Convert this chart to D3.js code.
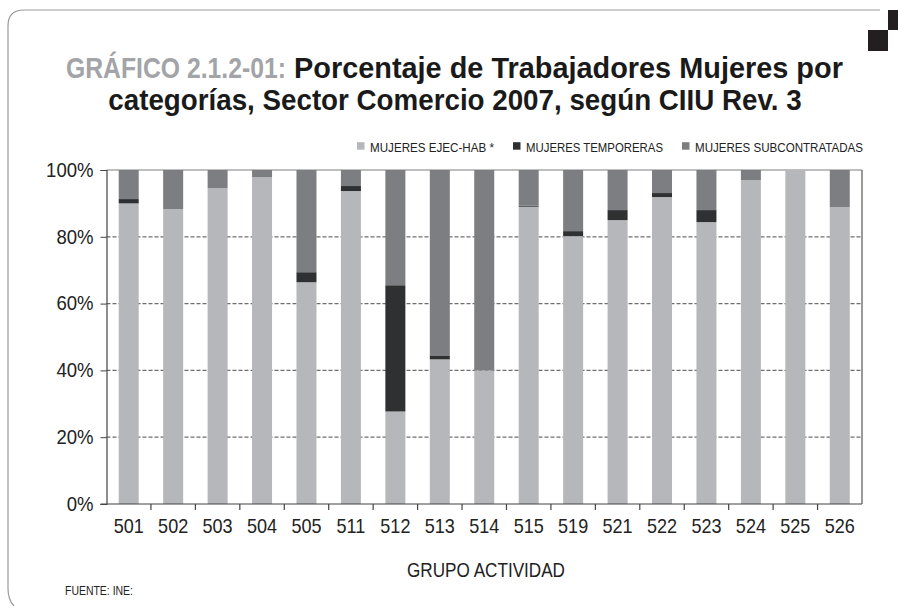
<!DOCTYPE html>
<html><head><meta charset="utf-8">
<script src="https://cdn.jsdelivr.net/npm/d3@7"></script>
<style>
html,body{margin:0;padding:0;background:#fff;}
svg{display:block;}
</style></head>
<body>
<svg id="chart" width="898" height="608"></svg>
<script>
const categories = ["501","502","503","504","505","511","512","513","514","515","519","521","522","523","524","525","526"];
const ejecHab     = [90.0, 88.3, 94.6, 97.9, 66.4, 93.7, 27.7, 43.3, 40.0, 89.0, 80.2, 85.0, 91.9, 84.4, 97.0, 100.0, 88.9];
const temporeras  = [1.3, 0, 0, 0, 3.0, 1.5, 37.8, 1.2, 0, 0.3, 1.5, 3.0, 1.2, 3.6, 0, 0, 0];
const subcontrat  = [8.7, 11.7, 5.4, 2.1, 30.6, 4.8, 34.5, 55.5, 60.0, 10.7, 18.3, 12.0, 6.9, 12.0, 3.0, 0, 11.1];
const seriesNames = ["MUJERES EJEC-HAB *","MUJERES TEMPORERAS","MUJERES SUBCONTRATADAS"];
const yTicks = [0,20,40,60,80,100];

(function(){
const colors = ["#b6b7ba","#2f3032","#7d7e82"];
const keys = ["ejec","temp","sub"];
const table = categories.map((c,i)=>({cat:c, ejec:ejecHab[i], temp:temporeras[i], sub:subcontrat[i]}));

const svg = d3.select("#chart");
const F = '"Liberation Sans", Arial, sans-serif';

function condense(sel, factor){
  sel.each(function(){
    const w = this.getComputedTextLength();
    d3.select(this).attr("textLength", (w*factor).toFixed(1)).attr("lengthAdjust","spacingAndGlyphs");
  });
}
function fitText(g, x, y, w, anchor, txt, attrs){
  const grp = g.append("g");
  const t = grp.append("text").attr("x",0).attr("y",0).attr("text-anchor",anchor).text(txt);
  Object.entries(attrs).forEach(([k,v])=>t.attr(k,v));
  const nat = t.node().getComputedTextLength();
  grp.attr("transform",`translate(${x},${y}) scale(${(w/nat).toFixed(4)},1)`);
  return t;
}

// frame
svg.append("path")
  .attr("d","M 880 10 L 24 10 Q 8 10 8 26 L 8 588 Q 8 600 14 606")
  .attr("fill","none").attr("stroke","#9a9a9a").attr("stroke-width",1.2);
svg.append("rect").attr("x",888).attr("y",10).attr("width",10).attr("height",20).attr("fill","#231f20");
svg.append("rect").attr("x",868).attr("y",30).attr("width",20).attr("height",21).attr("fill","#231f20");

// title
const TA = {"font-family":F,"font-weight":"bold","font-size":29.5};
fitText(svg, 66, 77.5, 220, "start", "GRÁFICO 2.1.2-01:", {...TA, fill:"#a3a4a7"});
fitText(svg, 294, 77.5, 549, "start", "Porcentaje de Trabajadores Mujeres por", {...TA, fill:"#1a1a1a"});
fitText(svg, 455, 110, 694, "middle", "categorías, Sector Comercio 2007, según CIIU Rev. 3", {...TA, fill:"#1a1a1a"});

const pl=106.5, pr=862, pt=170, pb=504;
const x = d3.scaleBand().domain(categories).range([pl,pr]).paddingInner(0.55).paddingOuter(0.275);
const y = d3.scaleLinear().domain([0,100]).range([pb,pt]);

// gridlines
svg.append("g").selectAll("line").data(yTicks.filter(d=>d>0&&d<100)).join("line")
  .attr("x1",pl).attr("x2",pr).attr("y1",d=>y(d)).attr("y2",d=>y(d))
  .attr("stroke","#6e6e6e").attr("stroke-width",1.2).attr("stroke-dasharray","4,2");
svg.append("line").attr("x1",pl).attr("x2",pr).attr("y1",y(100)).attr("y2",y(100))
  .attr("stroke","#a8a8a8").attr("stroke-width",1.5);
svg.append("line").attr("x1",pr).attr("x2",pr).attr("y1",y(100)).attr("y2",y(0))
  .attr("stroke","#555").attr("stroke-width",1.2);

// bars
const stack = d3.stack().keys(keys)(table);
svg.append("g").selectAll("g").data(stack).join("g").attr("fill",(d,i)=>colors[i])
  .selectAll("rect").data(d=>d).join("rect")
  .attr("x",d=>x(d.data.cat)).attr("width",x.bandwidth())
  .attr("y",d=>y(d[1])).attr("height",d=>y(d[0])-y(d[1]));

// y axis
const ya = svg.append("g").attr("transform",`translate(${pl},0)`)
  .call(d3.axisLeft(y).tickValues(yTicks).tickSize(6).tickPadding(7).tickFormat(d=>d+"%"));
ya.select(".domain").attr("stroke","#444").attr("stroke-width",1.2);
ya.selectAll(".tick line").attr("stroke","#444");
ya.selectAll("text").attr("font-family",F).attr("font-size",19.5).attr("fill","#222").call(condense,0.95);

// x axis
const xa = svg.append("g").attr("transform",`translate(0,${pb})`)
  .call(d3.axisBottom(x).tickSize(0).tickPadding(14));
xa.select(".domain").remove();
xa.selectAll("text").attr("font-family",F).attr("font-size",21).attr("fill","#222").call(condense,0.86);
svg.append("line").attr("x1",pl-6).attr("x2",pr).attr("y1",pb).attr("y2",pb)
  .attr("stroke","#444").attr("stroke-width",1.2);
const bounds = d3.range(1,categories.length).map(i=>x(categories[i]) - x.step()*x.paddingInner()/2);
svg.append("g").selectAll("line").data(bounds).join("line")
  .attr("x1",d=>d).attr("x2",d=>d).attr("y1",pb).attr("y2",pb+6)
  .attr("stroke","#444").attr("stroke-width",1.2);

svg.append("text").attr("x",486).attr("y",577).attr("text-anchor","middle")
  .attr("font-family",F).attr("font-size",21).attr("fill","#222")
  .attr("textLength",158).attr("lengthAdjust","spacingAndGlyphs").text("GRUPO ACTIVIDAD");
svg.append("text").attr("x",65).attr("y",595)
  .attr("font-family",F).attr("font-size",12.5).attr("fill","#222")
  .attr("textLength",68).attr("lengthAdjust","spacingAndGlyphs").text("FUENTE: INE:");

// legend
const legX = [357, 513, 682];
const legW = [124, 137, 168];
const lg = svg.append("g").selectAll("g").data(seriesNames).join("g")
  .attr("transform",(d,i)=>`translate(${legX[i]},151.5)`);
lg.append("rect").attr("x",0).attr("y",-9.3).attr("width",7.5).attr("height",7.5).attr("fill",(d,i)=>colors[i]);
lg.append("text").attr("x",13).attr("y",0).attr("font-family",F).attr("font-size",13.5).attr("fill","#222")
  .attr("textLength",(d,i)=>legW[i]).attr("lengthAdjust","spacingAndGlyphs").text(d=>d);
})();
</script>
</body></html>
